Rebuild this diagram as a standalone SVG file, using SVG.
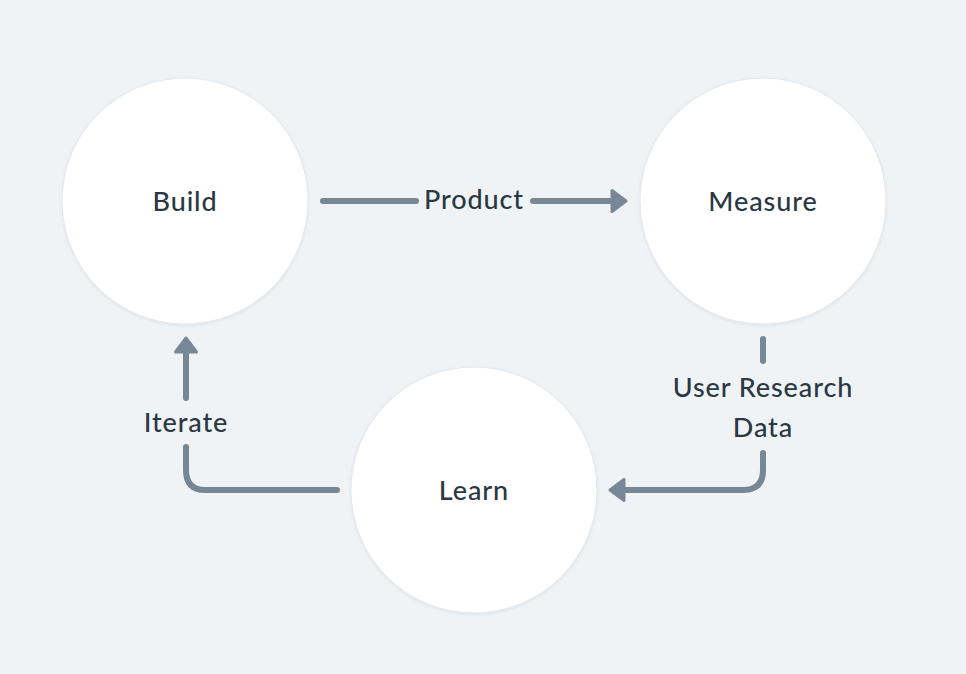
<svg xmlns="http://www.w3.org/2000/svg" width="966" height="674" viewBox="0 0 966 674">
<defs>
<style>
.node{fill:#ffffff;stroke:#e3e7eb;stroke-width:1}
.lbl{font-family:Lato,"Open Sans",sans-serif;font-size:27px;font-weight:500;fill:#2a3844;text-anchor:middle;letter-spacing:0.9px}
.edge{fill:none;stroke:#778796;stroke-width:6;stroke-linecap:round;stroke-linejoin:round}
</style>
<marker id="ah" markerUnits="userSpaceOnUse" markerWidth="30" markerHeight="30" refX="5" refY="15" orient="auto" viewBox="0 0 30 30">
<path d="M5,4.5 L19,15 L5,25.5 Z" fill="#778796" stroke="#778796" stroke-width="3" stroke-linejoin="round"/>
</marker>
<filter id="sh" x="-20%" y="-20%" width="140%" height="140%">
<feDropShadow dx="0" dy="1" stdDeviation="1.5" flood-color="#000" flood-opacity="0.08"/>
</filter>
</defs>
<rect width="966" height="674" fill="#eff3f6"/>
<g id="connectors">
<path class="edge" d="M323,201 L416,201"/>
<path class="edge" d="M533,201 L612,201" marker-end="url(#ah)"/>
<path class="edge" d="M763,339 L763,361"/>
<path class="edge" d="M763,453 L763,470 Q763,490 743,490 L624,490" marker-end="url(#ah)"/>
<path class="edge" d="M337,490 L205,490 Q186,490 186,470 L186,447"/>
<path class="edge" d="M186,398 L186,352" marker-end="url(#ah)"/>
<text class="lbl" x="474" y="209">Product</text>
<text class="lbl" x="763" y="397">User Research</text>
<text class="lbl" x="763" y="437">Data</text>
<text class="lbl" x="186" y="432">Iterate</text>
</g>
<g id="build">
<circle class="node" cx="185" cy="201" r="123" filter="url(#sh)"/>
<text class="lbl" x="185" y="211">Build</text>
</g>
<g id="measure">
<circle class="node" cx="763" cy="201" r="123" filter="url(#sh)"/>
<text class="lbl" x="763" y="211">Measure</text>
</g>
<g id="learn">
<circle class="node" cx="474" cy="490" r="123" filter="url(#sh)"/>
<text class="lbl" x="474" y="500">Learn</text>
</g>
</svg>
